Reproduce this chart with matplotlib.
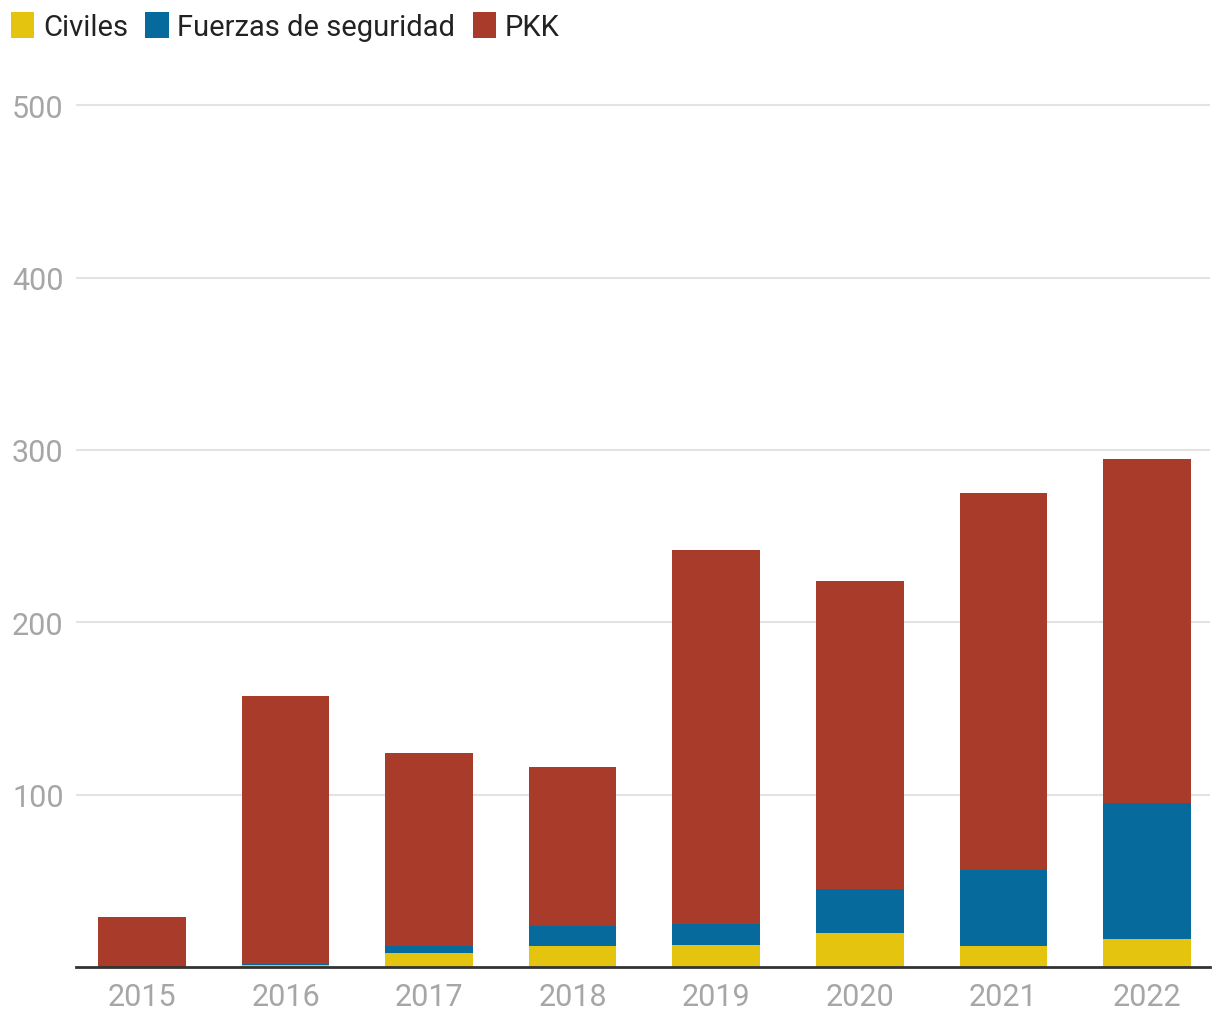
import matplotlib
matplotlib.use("Agg")
import matplotlib.pyplot as plt
from matplotlib.patches import Patch
import numpy as np

years = ["2015", "2016", "2017", "2018", "2019", "2020", "2021", "2022"]
civiles = [0, 1, 8, 12, 13, 20, 12, 16]
fuerzas = [0, 1, 4, 12, 12, 25, 44, 79]
pkk = [29, 155, 112, 92, 217, 179, 219, 200]

series_names = ["Civiles", "Fuerzas de seguridad", "PKK"]
colors = ["#e5c410", "#066a9c", "#a93b2b"]
yticks = [100, 200, 300, 400, 500]

plt.rcParams['font.family'] = ['Roboto', 'DejaVu Sans']

fig = plt.figure(figsize=(12.2, 10.2), dpi=100)
ax = fig.add_axes([76/1220, 1-968/1020, (1210-76)/1220, (968-104)/1020 + 3/1020])

x = np.arange(len(years))
bottom = np.zeros(len(years))
for vals, name, c in zip([civiles, fuerzas, pkk], series_names, colors):
    ax.bar(x, vals, width=0.61, bottom=bottom, color=c, label=name, zorder=3)
    bottom += np.array(vals)

ax.set_xlim(-0.46, 7.44)
ax.set_ylim(0, 503)
ax.set_yticks(yticks)
ax.set_yticklabels([str(t) for t in yticks])
ax.grid(axis='y', color='#e3e3e3', linewidth=1.5, zorder=0)
ax.set_xticks(x)
ax.set_xticklabels(years)
for s in ['top', 'right', 'left']:
    ax.spines[s].set_visible(False)
ax.spines['bottom'].set_color('#333333')
ax.spines['bottom'].set_linewidth(2)
ax.spines['bottom'].set_zorder(4)
ax.tick_params(axis='y', length=0, pad=46, labelsize=22, labelcolor='#a6a6a6')
for lab in ax.get_yticklabels():
    lab.set_horizontalalignment('left')
ax.tick_params(axis='x', length=0, pad=11, labelsize=22, labelcolor='#a6a6a6')

handles = [Patch(facecolor=c, edgecolor='none') for c in colors]
fig.legend(handles, series_names, loc='upper left', bbox_to_anchor=(2/1220, 1-4/1020),
           ncol=3, frameon=False, fontsize=21, handlelength=0.8, handleheight=1.0,
           handletextpad=0.3, columnspacing=0.6, borderaxespad=0, borderpad=0.3,
           labelcolor='#222222')

fig.savefig("out.png", dpi=100)
